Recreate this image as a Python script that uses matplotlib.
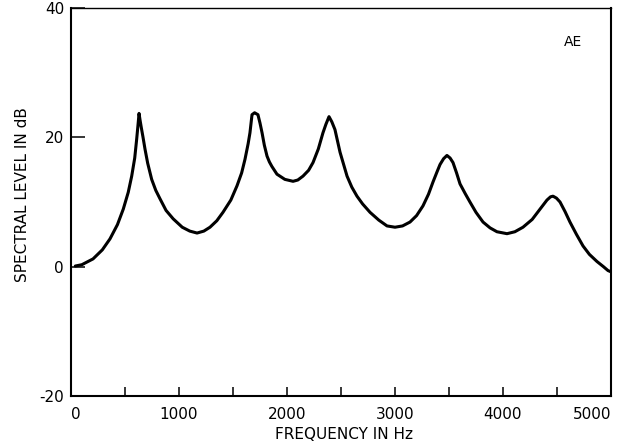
import matplotlib
matplotlib.use("Agg")
import matplotlib.pyplot as plt
from matplotlib.ticker import MultipleLocator

# Spectral envelope of the vowel "AE"
freq_hz = [40, 100, 204, 290, 361, 430, 484, 530, 562, 590, 608, 622, 630, 640,
           650, 667, 685, 710, 747, 785, 824, 880, 946, 1030, 1100, 1167, 1230,
           1287, 1350, 1407, 1480, 1537, 1580, 1611, 1640, 1657, 1676, 1700, 1731,
           1750, 1769, 1790, 1815, 1837, 1860, 1907, 1980, 2056, 2100, 2148, 2200,
           2241, 2290, 2333, 2360, 2389, 2415, 2444, 2491, 2556, 2600, 2648, 2700,
           2769, 2850, 2926, 3000, 3070, 3139, 3200, 3259, 3310, 3352, 3390, 3417,
           3450, 3481, 3510, 3537, 3570, 3602, 3650, 3694, 3750, 3815, 3880, 3944,
           4037, 4110, 4185, 4270, 4343, 4407, 4440, 4463, 4495, 4528, 4575, 4620,
           4680, 4741, 4800, 4870, 4930, 4972, 5000]
level_db = [0.1, 0.3, 1.2, 2.6, 4.3, 6.5, 8.9, 11.5, 14.0, 16.8, 19.7, 22.2, 23.7,
            22.6, 21.6, 20.0, 18.2, 16.0, 13.5, 11.8, 10.5, 8.7, 7.4, 6.1, 5.5,
            5.2, 5.5, 6.1, 7.1, 8.4, 10.3, 12.5, 14.5, 16.6, 19.0, 20.7, 23.5,
            23.8, 23.5, 22.2, 20.7, 18.8, 17.1, 16.2, 15.5, 14.3, 13.5, 13.2, 13.4,
            14.0, 14.9, 16.1, 18.2, 20.7, 22.0, 23.2, 22.4, 21.2, 17.7, 14.0, 12.3,
            10.9, 9.7, 8.4, 7.2, 6.3, 6.1, 6.3, 6.9, 7.9, 9.4, 11.2, 13.1, 14.7,
            15.8, 16.7, 17.2, 16.8, 16.1, 14.5, 12.8, 11.3, 10.0, 8.4, 6.9, 6.0,
            5.4, 5.1, 5.4, 6.1, 7.3, 8.9, 10.3, 10.8, 10.9, 10.6, 10.0, 8.5, 6.9,
            5.0, 3.2, 1.9, 0.8, 0.0, -0.6, -0.8]

x_major = [0, 1000, 2000, 3000, 4000, 5000]
x_labels = ["0", "1000", "2000", "3000", "4000", "5000"]
y_major = [-20, 0, 20, 40]
y_labels = ["-20", "0", "20", "40"]

plt.rcParams["font.family"] = ["DejaVu Sans"]

fig = plt.figure(figsize=(6.26, 4.44), dpi=100)
ax = fig.add_axes([71 / 626, 48 / 444, 540 / 626, 388 / 444])

ax.plot(freq_hz, level_db, color="black", lw=2.2,
        solid_joinstyle="round", solid_capstyle="round")

ax.set_xlim(0, 5000)
ax.set_ylim(-20, 40)

ax.set_xticks(x_major)
ax.set_xticklabels(x_labels, fontsize=11)
ax.xaxis.set_minor_locator(MultipleLocator(500))
ax.set_yticks(y_major)
ax.set_yticklabels(y_labels, fontsize=11)

xt = ax.get_xticklabels()
xt[0].set_ha("left")
xt[-1].set_ha("right")

ax.tick_params(axis="x", which="both", direction="in", length=6.5,
               width=1.1, pad=8, top=False)
ax.tick_params(axis="y", direction="in", length=10, width=1.1, pad=5,
               right=False)

for side in ["left", "bottom", "right"]:
    ax.spines[side].set_linewidth(1.5)
ax.spines["top"].set_linewidth(1.0)

ax.set_xlabel("FREQUENCY IN Hz", fontsize=11)
ax.xaxis.set_label_coords(0.505, -0.08)
ax.set_ylabel("SPECTRAL LEVEL IN dB", fontsize=11)
ax.yaxis.set_label_coords(-0.076, 0.52)

ax.text(0.93, 0.912, "AE", transform=ax.transAxes, fontsize=10,
        ha="center", va="center")

fig.savefig("out.png", dpi=100)
